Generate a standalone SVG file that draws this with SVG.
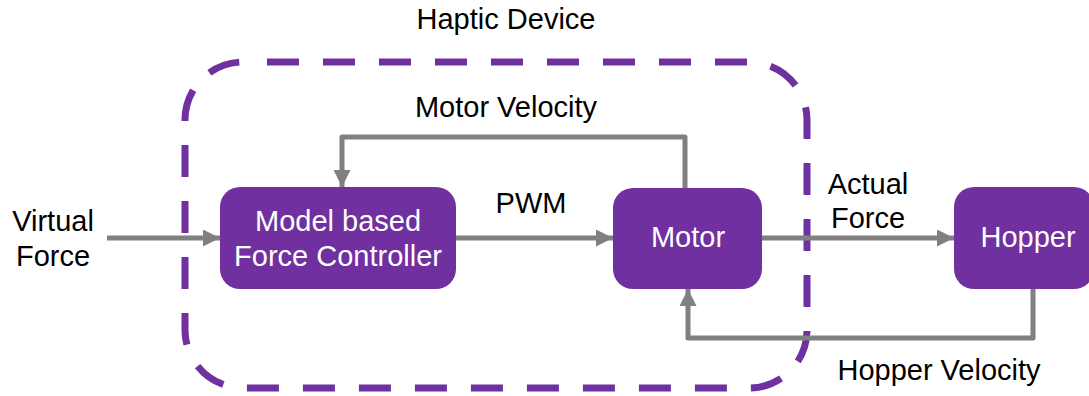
<svg xmlns="http://www.w3.org/2000/svg" width="1089" height="396" viewBox="0 0 1089 396">
  <style>
    .node { fill: #7030A0; }
    .ntext { fill: #ffffff; font-family: "Liberation Sans", Arial, sans-serif; font-size: 29px; text-anchor: middle; }
    .label { fill: #000000; font-family: "Liberation Sans", Arial, sans-serif; font-size: 29px; text-anchor: middle; }
    .wire { fill: none; stroke: #808080; stroke-width: 5; stroke-linejoin: round; }
    .boundary { fill: none; stroke: #7030A0; stroke-width: 7; stroke-dasharray: 32 24; stroke-dashoffset: 32; }
  </style>
  <defs>
    <marker id="arrow" viewBox="0 0 10 10" refX="10" refY="5" markerWidth="3.4" markerHeight="3.4" orient="auto" markerUnits="strokeWidth">
      <path d="M0,0 L10,5 L0,10 Z" fill="#808080"/>
    </marker>
  </defs>

  <!-- device boundary -->
  <g id="haptic-device">
    <rect class="boundary" x="185" y="62" width="622" height="326" rx="58" ry="58"/>
    <text class="label" x="506" y="29">Haptic Device</text>
  </g>

  <!-- connectors -->
  <g id="connectors">
    <path class="wire" d="M107,238 H220" marker-end="url(#arrow)"/>
    <path class="wire" d="M456,238 H613" marker-end="url(#arrow)"/>
    <path class="wire" d="M762,238 H954" marker-end="url(#arrow)"/>
    <path class="wire" d="M685,188 V137 H342 V187" marker-end="url(#arrow)"/>
    <path class="wire" d="M1033,289 V338 H688 V289" marker-end="url(#arrow)"/>
    <text class="label" x="506" y="117">Motor Velocity</text>
    <text class="label" x="531" y="213">PWM</text>
    <text class="label" x="868" y="194">Actual</text>
    <text class="label" x="868" y="228">Force</text>
    <text class="label" x="53" y="231">Virtual</text>
    <text class="label" x="53" y="266">Force</text>
    <text class="label" x="939" y="380">Hopper Velocity</text>
  </g>

  <g id="controller">
    <rect class="node" x="220" y="187" width="236" height="102" rx="20" ry="20"/>
    <text class="ntext" x="338" y="231">Model based</text>
    <text class="ntext" x="338" y="266">Force Controller</text>
  </g>

  <g id="motor">
    <rect class="node" x="613" y="188" width="149" height="101" rx="20" ry="20"/>
    <text class="ntext" x="688" y="247">Motor</text>
  </g>

  <g id="hopper">
    <rect class="node" x="954" y="187" width="140" height="102" rx="20" ry="20"/>
    <text class="ntext" x="1028" y="247">Hopper</text>
  </g>
</svg>
